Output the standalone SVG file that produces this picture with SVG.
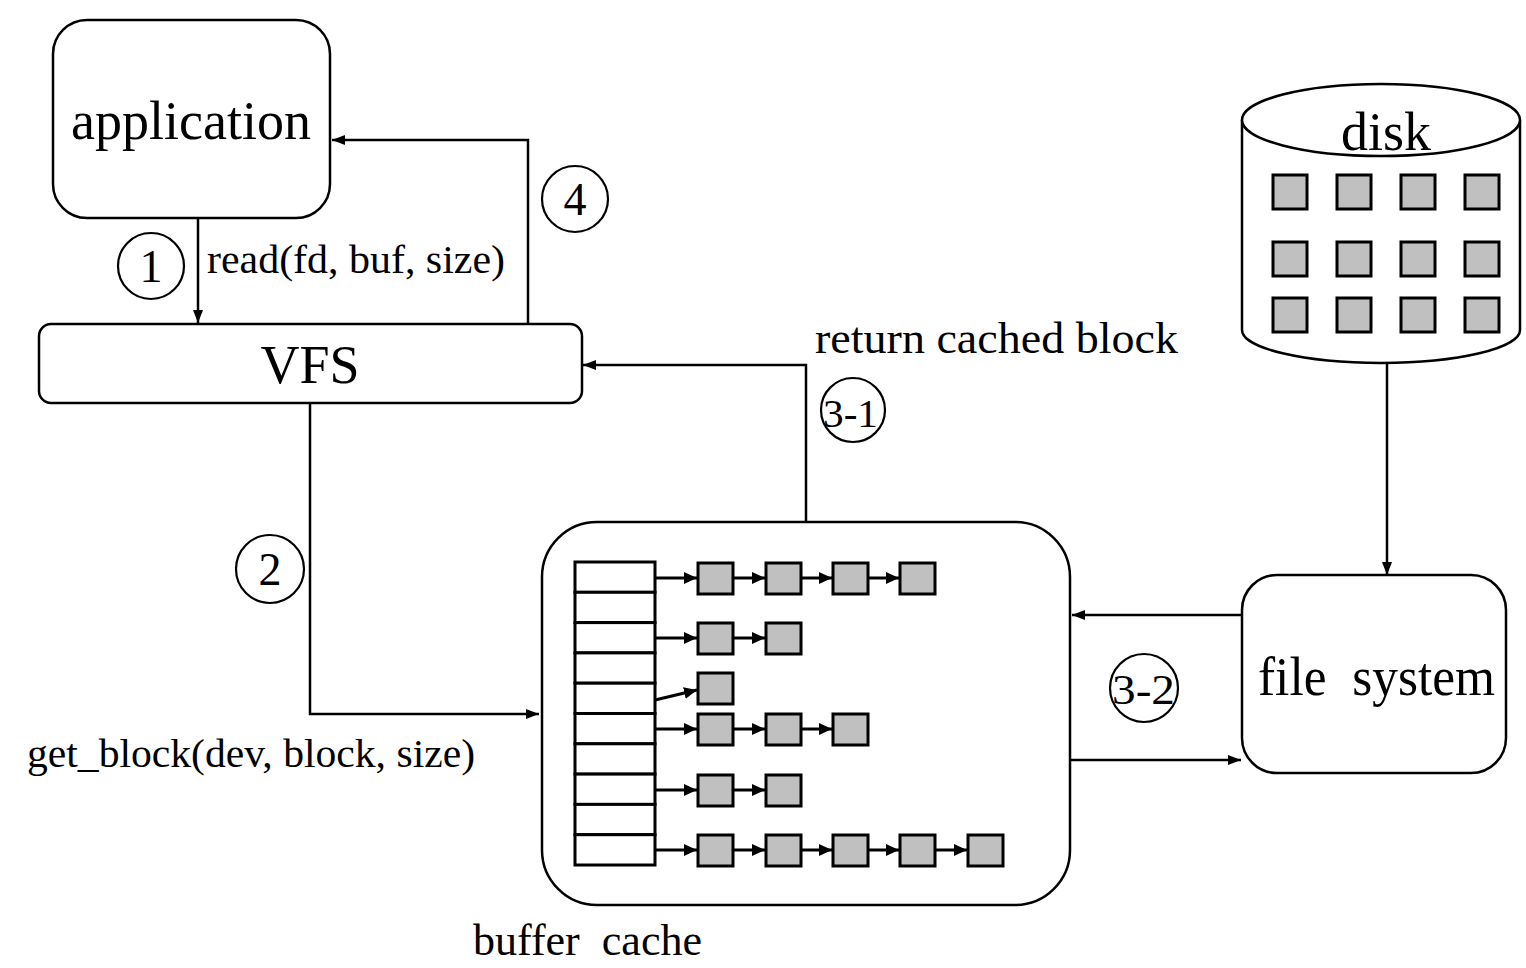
<svg xmlns="http://www.w3.org/2000/svg" width="1526" height="968" viewBox="0 0 1526 968">
<style>
.box{fill:#fff;stroke:#000;stroke-width:2.5}
.ln{fill:none;stroke:#000;stroke-width:2.5}
.lnb{fill:none;stroke:#000;stroke-width:3}
.sq{fill:#c0c0c0;stroke:#000;stroke-width:3}
.cell{fill:#fff;stroke:#000;stroke-width:3}
.circ{fill:none;stroke:#000;stroke-width:2.2}
text{font-family:"Liberation Serif","Times New Roman",serif;fill:#000}
.big{font-size:54px}
.mid{font-size:44px}
.sm{font-size:40px}
.num{font-size:46px;text-anchor:middle}
</style>
<defs>
<marker id="ah" markerUnits="userSpaceOnUse" markerWidth="13" markerHeight="10" refX="13" refY="5" orient="auto">
<path d="M0,0 L13,5 L0,10 z" fill="#000"/>
</marker>
<marker id="ahs" markerUnits="userSpaceOnUse" markerWidth="13" markerHeight="12" refX="13" refY="6" orient="auto">
<path d="M0,0 L13,6 L0,12 z" fill="#000"/>
</marker>
</defs>
<rect width="1526" height="968" fill="#fff"/>

<g id="application">
<rect class="box" x="53" y="20" width="277" height="198" rx="34"/>
<text class="big" x="191" y="139" text-anchor="middle">application</text>
</g>

<g id="vfs">
<rect class="box" x="39" y="324" width="543" height="79" rx="12"/>
<text class="big" x="310" y="383" text-anchor="middle" font-size="52">VFS</text>
</g>

<g id="disk">
<path class="box" d="M1242,120 L1242,330 A139,33 0 0 0 1520,330 L1520,120"/>
<ellipse class="box" cx="1381" cy="120" rx="139" ry="36"/>
<text class="big" x="1386" y="150" text-anchor="middle">disk</text>
<rect class="sq" x="1273" y="175" width="34" height="34"/>
<rect class="sq" x="1337" y="175" width="34" height="34"/>
<rect class="sq" x="1401" y="175" width="34" height="34"/>
<rect class="sq" x="1465" y="175" width="34" height="34"/>
<rect class="sq" x="1273" y="242" width="34" height="34"/>
<rect class="sq" x="1337" y="242" width="34" height="34"/>
<rect class="sq" x="1401" y="242" width="34" height="34"/>
<rect class="sq" x="1465" y="242" width="34" height="34"/>
<rect class="sq" x="1273" y="298" width="34" height="34"/>
<rect class="sq" x="1337" y="298" width="34" height="34"/>
<rect class="sq" x="1401" y="298" width="34" height="34"/>
<rect class="sq" x="1465" y="298" width="34" height="34"/>
</g>

<g id="file-system">
<rect class="box" x="1242" y="575" width="264" height="198" rx="35"/>
<text class="big" x="1258" y="695" font-size="52" textLength="237" lengthAdjust="spacingAndGlyphs" xml:space="preserve">file  system</text>
</g>

<g id="buffer-cache">
<rect class="box" x="542" y="522" width="528" height="383" rx="55"/>
<rect class="cell" x="575" y="562" width="80" height="30.3"/>
<rect class="cell" x="575" y="592.3" width="80" height="30.3"/>
<rect class="cell" x="575" y="622.6" width="80" height="30.3"/>
<rect class="cell" x="575" y="652.9" width="80" height="30.3"/>
<rect class="cell" x="575" y="683.2" width="80" height="30.3"/>
<rect class="cell" x="575" y="713.5" width="80" height="30.3"/>
<rect class="cell" x="575" y="743.8" width="80" height="30.3"/>
<rect class="cell" x="575" y="774.1" width="80" height="30.3"/>
<rect class="cell" x="575" y="804.4" width="80" height="30.3"/>
<rect class="cell" x="575" y="834.7" width="80" height="30.3"/>
<!-- row A -->
<rect class="sq" x="698" y="563" width="35" height="31"/>
<rect class="sq" x="766" y="563" width="35" height="31"/>
<rect class="sq" x="833" y="563" width="35" height="31"/>
<rect class="sq" x="900" y="563" width="35" height="31"/>
<!-- row B -->
<rect class="sq" x="698" y="623" width="35" height="31"/>
<rect class="sq" x="766" y="623" width="35" height="31"/>
<!-- row C -->
<rect class="sq" x="698" y="673" width="35" height="31"/>
<!-- row D -->
<rect class="sq" x="698" y="714" width="35" height="31"/>
<rect class="sq" x="766" y="714" width="35" height="31"/>
<rect class="sq" x="833" y="714" width="35" height="31"/>
<!-- row E -->
<rect class="sq" x="698" y="775" width="35" height="31"/>
<rect class="sq" x="766" y="775" width="35" height="31"/>
<!-- row F -->
<rect class="sq" x="698" y="835" width="35" height="31"/>
<rect class="sq" x="766" y="835" width="35" height="31"/>
<rect class="sq" x="833" y="835" width="35" height="31"/>
<rect class="sq" x="900" y="835" width="35" height="31"/>
<rect class="sq" x="968" y="835" width="35" height="31"/>
<g class="lnb">
<line x1="655" y1="578" x2="697" y2="578" marker-end="url(#ahs)"/>
<line x1="734" y1="578" x2="765" y2="578" marker-end="url(#ahs)"/>
<line x1="802" y1="578" x2="832" y2="578" marker-end="url(#ahs)"/>
<line x1="869" y1="578" x2="899" y2="578" marker-end="url(#ahs)"/>
<line x1="655" y1="638" x2="697" y2="638" marker-end="url(#ahs)"/>
<line x1="734" y1="638" x2="765" y2="638" marker-end="url(#ahs)"/>
<line x1="655" y1="700" x2="697" y2="690" marker-end="url(#ahs)"/>
<line x1="655" y1="729" x2="697" y2="729" marker-end="url(#ahs)"/>
<line x1="734" y1="729" x2="765" y2="729" marker-end="url(#ahs)"/>
<line x1="802" y1="729" x2="832" y2="729" marker-end="url(#ahs)"/>
<line x1="655" y1="790" x2="697" y2="790" marker-end="url(#ahs)"/>
<line x1="734" y1="790" x2="765" y2="790" marker-end="url(#ahs)"/>
<line x1="655" y1="850" x2="697" y2="850" marker-end="url(#ahs)"/>
<line x1="734" y1="850" x2="765" y2="850" marker-end="url(#ahs)"/>
<line x1="802" y1="850" x2="832" y2="850" marker-end="url(#ahs)"/>
<line x1="869" y1="850" x2="899" y2="850" marker-end="url(#ahs)"/>
<line x1="936" y1="850" x2="967" y2="850" marker-end="url(#ahs)"/>
</g>
</g>

<g id="connectors">
<polyline class="ln" points="198,218 198,323" marker-end="url(#ah)"/>
<polyline class="ln" points="528,324 528,140 332,140" marker-end="url(#ah)"/>
<polyline class="ln" points="310,403 310,714 539,714" marker-end="url(#ah)"/>
<polyline class="ln" points="806,522 806,365 583,365" marker-end="url(#ah)"/>
<polyline class="ln" points="1387,363 1387,575" marker-end="url(#ah)"/>
<polyline class="ln" points="1242,615 1072,615" marker-end="url(#ah)"/>
<polyline class="ln" points="1071,760 1241,760" marker-end="url(#ah)"/>
</g>

<g id="labels">
<text class="sm" x="207" y="273" textLength="298" lengthAdjust="spacingAndGlyphs">read(fd, buf, size)</text>
<text class="sm" x="27" y="767" textLength="448" lengthAdjust="spacingAndGlyphs">get_block(dev, block, size)</text>
<text class="mid" x="473" y="955" textLength="229" lengthAdjust="spacingAndGlyphs" xml:space="preserve">buffer  cache</text>
<text class="mid" x="815" y="353" textLength="363" lengthAdjust="spacingAndGlyphs">return cached block</text>
</g>

<g id="step-1">
<circle class="circ" cx="151" cy="266" r="33"/>
<text class="num" x="151" y="282">1</text>
</g>
<g id="step-4">
<circle class="circ" cx="575" cy="199" r="33"/>
<text class="num" x="575" y="215">4</text>
</g>
<g id="step-2">
<circle class="circ" cx="270" cy="569" r="34"/>
<text class="num" x="270" y="585">2</text>
</g>
<g id="step-3-1">
<circle class="circ" cx="853" cy="410" r="32"/>
<text x="823" y="427" font-size="40" textLength="55" lengthAdjust="spacingAndGlyphs">3-1</text>
</g>
<g id="step-3-2">
<circle class="circ" cx="1144" cy="688" r="34"/>
<text x="1112" y="704" font-size="42" textLength="63" lengthAdjust="spacingAndGlyphs">3-2</text>
</g>
</svg>
